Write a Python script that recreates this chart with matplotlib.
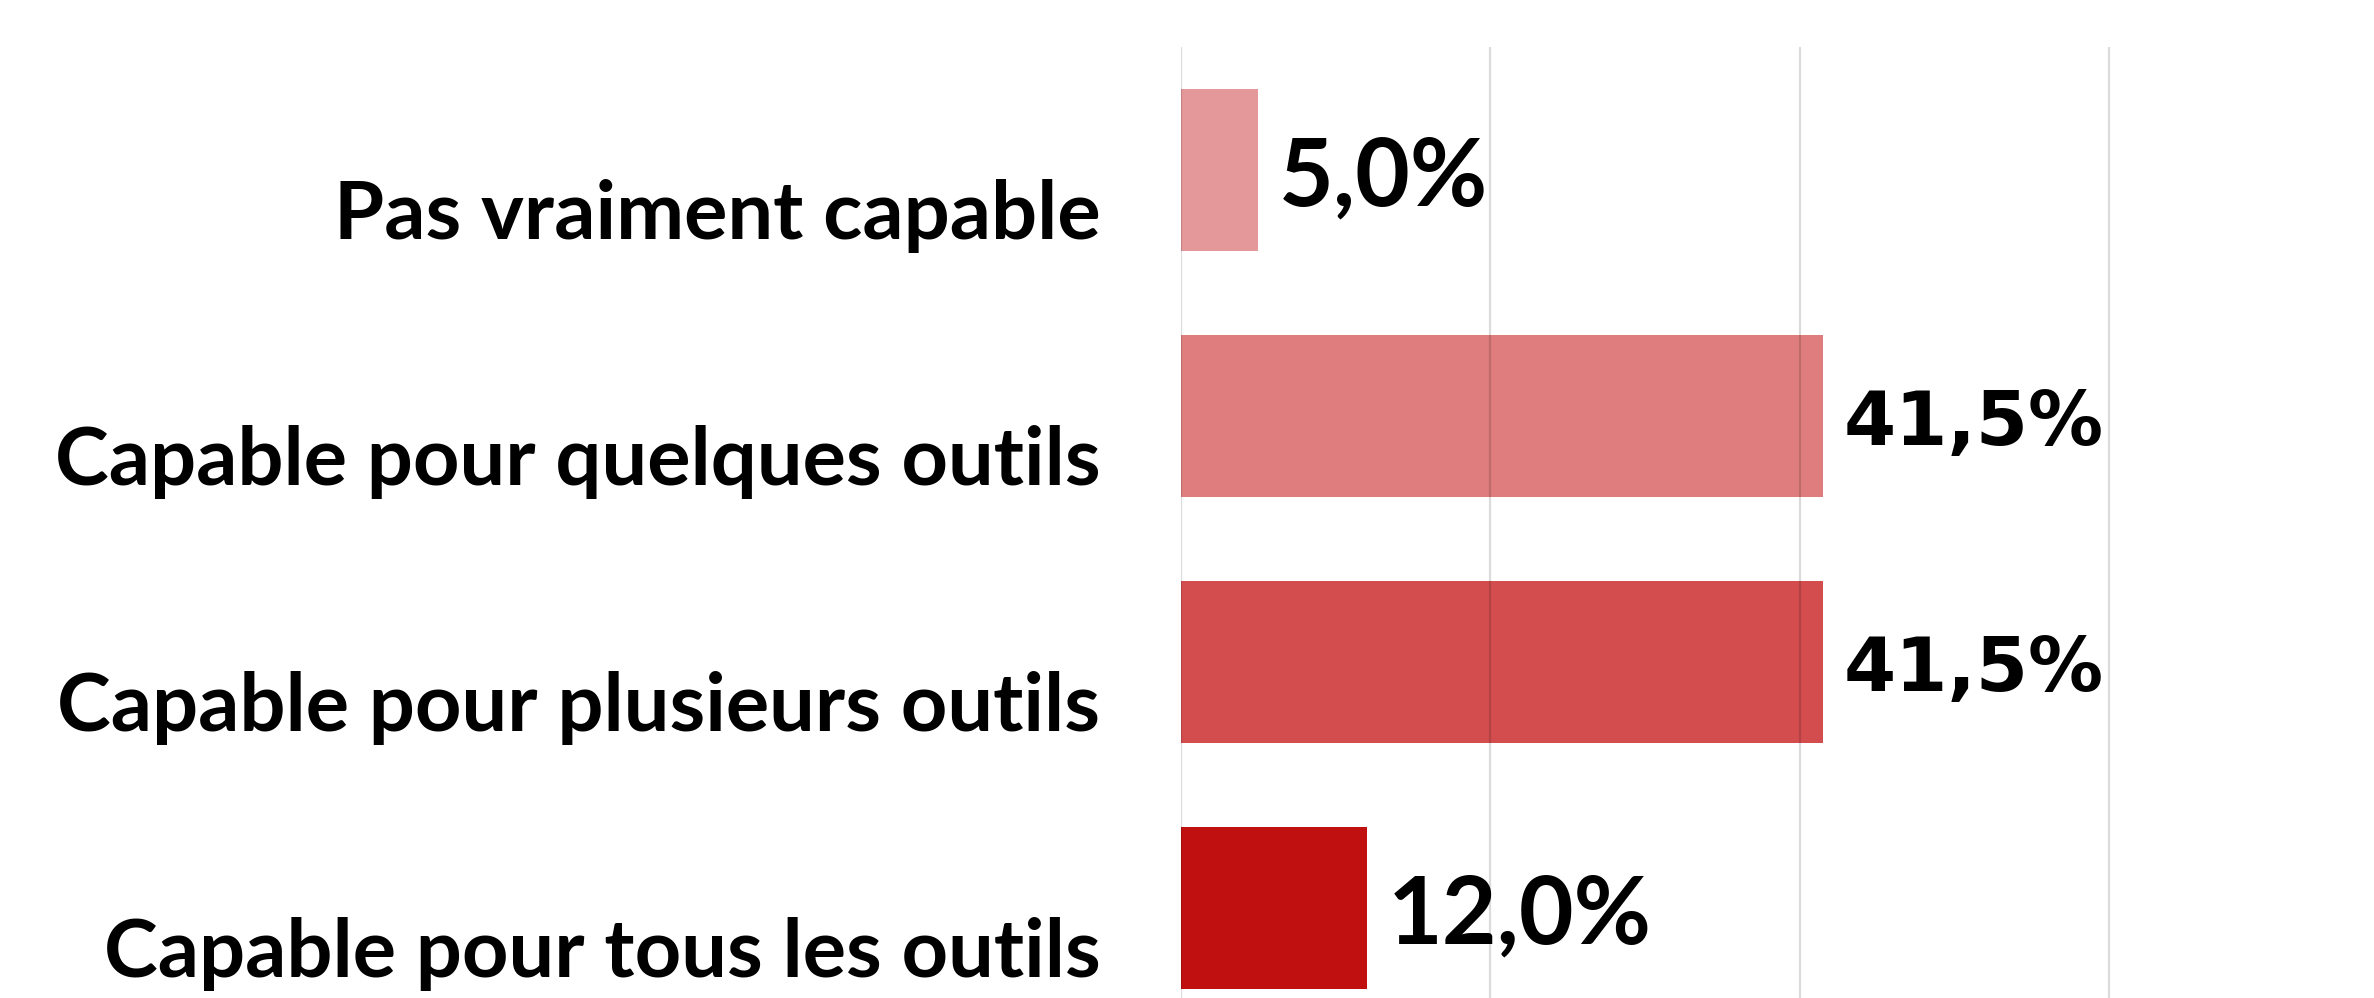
import matplotlib
matplotlib.use("Agg")
import matplotlib.pyplot as plt
import matplotlib.transforms as mtransforms

# ── data ───────────────────────────────────────────────────────────────────
categories = ["Pas vraiment capable",
              "Capable pour quelques outils",
              "Capable pour plusieurs outils",
              "Capable pour tous les outils"]
values = [5.0, 41.5, 41.5, 12.0]

# ── style ──────────────────────────────────────────────────────────────────
bar_colors  = ["#E59899", "#DF7D7E", "#D34D4F", "#C0100F"]
label_fonts = ["Lato", "DejaVu Sans", "DejaVu Sans", "Lato"]   # mixed fonts as in source
label_sizes = [68, 54, 54, 68]

fig = plt.figure(figsize=(23.74, 9.98), dpi=100)
ax = fig.add_axes([1181 / 2374, 0.0, 1 - 1181 / 2374, 0.953])

pos = list(range(len(categories)))
ax.barh(pos, values, height=0.66, color=bar_colors, zorder=2)

ax.set_xlim(0, 77.1)
ax.set_ylim(3.366, -0.5)

# gridlines drawn on top with low alpha so they show faintly through bars
ax.set_xticks([0, 20, 40, 60])
ax.xaxis.grid(True, color="black", alpha=0.14, linewidth=1.6, zorder=3)
ax.set_axisbelow(False)
ax.tick_params(axis="x", length=0, labelbottom=False)
for s in ax.spines.values():
    s.set_visible(False)

# category labels, shifted down a bit like the original
ax.set_yticks(pos)
ax.set_yticklabels(categories, fontsize=58.5, fontweight="bold", family="Lato")
ax.tick_params(axis="y", length=0, pad=58)
shift = mtransforms.ScaledTranslation(0, -39 / 100, fig.dpi_scale_trans)
for lab in ax.get_yticklabels():
    lab.set_transform(lab.get_transform() + shift)

# value labels
for p, v, f, fs in zip(pos, values, label_fonts, label_sizes):
    ax.annotate(f"{v:.1f}%".replace(".", ","), (v, p),
                xytext=(15, -6), textcoords="offset points",
                ha="left", va="center", fontsize=fs, fontweight="bold",
                family=f, color="black")

fig.savefig("out.png", dpi=100)
